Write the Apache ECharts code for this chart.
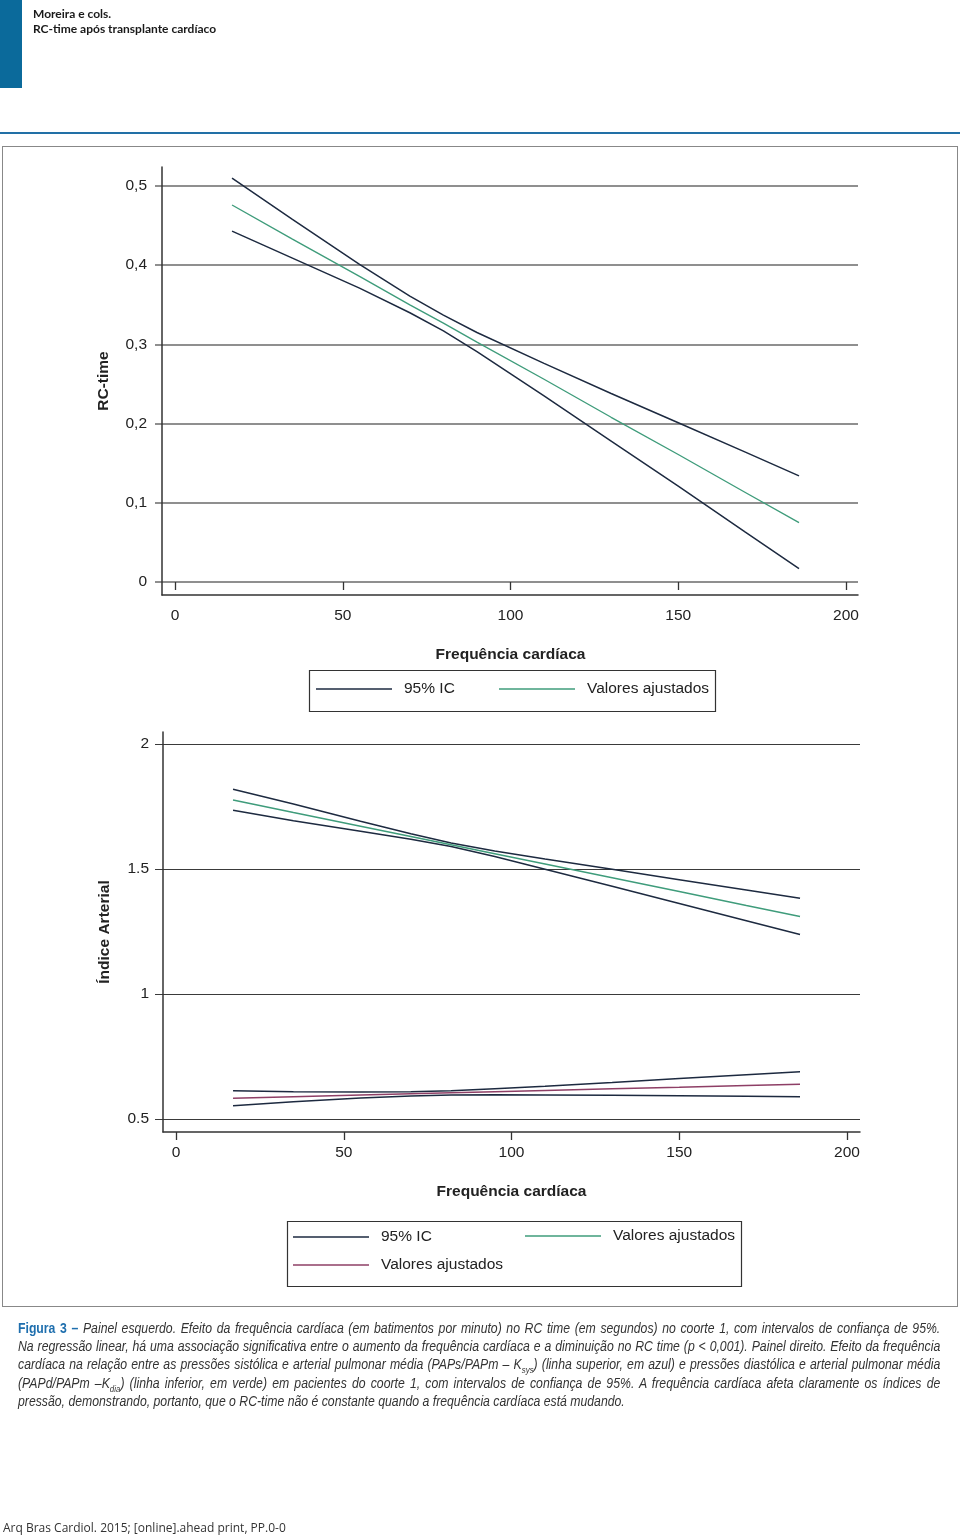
<!DOCTYPE html>
<html>
<head>
<meta charset="utf-8">
<script src="https://cdn.jsdelivr.net/npm/echarts@6/dist/echarts.min.js"></script>
<style>
  html, body { margin:0; padding:0; background:#fff; }
  #page { position:relative; width:960px; height:1536px; overflow:hidden; }
  #chart { position:absolute; left:0; top:0; width:960px; height:1536px; }
  .abs { position:absolute; }
  #bar { left:0; top:0; width:22px; height:88px; background:#0b6a9b; }
  #hdr { left:33px; top:7px; font-family:Lato, "Open Sans", sans-serif; font-size:12px; line-height:14.5px; font-weight:700; color:#1a1a1a; }
  #rule { left:0; top:132px; width:960px; height:2px; background:#2270a6; }
  #panel { left:2px; top:146px; width:954px; height:1159px; border:1px solid #888; }
  #cap { left:18px; top:1319px; width:1054px; transform:scaleX(0.875); transform-origin:0 0;
         font-family:"Liberation Sans",Arial,sans-serif; font-size:14px; line-height:18.2px; color:#333; font-style:italic; }
  #cap div { text-align:justify; text-align-last:justify; white-space:nowrap; }
  #cap div.last { text-align-last:left; }
  #cap b { font-style:normal; color:#1f6fae; font-weight:bold; }
  #cap sub { font-size:9px; line-height:0; }
  #foot { left:3px; top:1519px; font-family:"Open Sans", sans-serif; font-size:12px; color:#333; }
</style>
</head>
<body>
<div id="page">
  <div id="chart"></div>
  <div id="bar" class="abs"></div>
  <div id="hdr" class="abs">Moreira e cols.<br>RC-time após transplante cardíaco</div>
  <div id="rule" class="abs"></div>
  <div id="panel" class="abs"></div>
  <div id="cap" class="abs">
    <div><b>Figura 3 –</b> Painel esquerdo. Efeito da frequência cardíaca (em batimentos por minuto) no RC time (em segundos) no coorte 1, com intervalos de confiança de 95%.</div>
    <div>Na regressão linear, há uma associação significativa entre o aumento da frequência cardíaca e a diminuição no RC time (p &lt; 0,001). Painel direito. Efeito da frequência</div>
    <div>cardíaca na relação entre as pressões sistólica e arterial pulmonar média (PAPs/PAPm – K<sub>sys</sub>) (linha superior, em azul) e pressões diastólica e arterial pulmonar média</div>
    <div>(PAPd/PAPm –K<sub>dia</sub>) (linha inferior, em verde) em pacientes do coorte 1, com intervalos de confiança de 95%. A frequência cardíaca afeta claramente os índices de</div>
    <div class="last">pressão, demonstrando, portanto, que o RC-time não é constante quando a frequência cardíaca está mudando.</div>
  </div>
  <div id="foot" class="abs">Arq Bras Cardiol. 2015; [online].ahead print, PP.0-0</div>
</div>
<script>
// ---- data ----
const hrTop = [17, 35, 55, 70, 80, 90, 110, 130, 150, 170, 186];
const rcUpper = [0.510, 0.458, 0.401, 0.361, 0.337, 0.315, 0.276, 0.238, 0.201, 0.164, 0.134];
const rcFit   = [0.476, 0.433, 0.386, 0.350, 0.327, 0.303, 0.256, 0.208, 0.161, 0.113, 0.075];
const rcLower = [0.443, 0.409, 0.371, 0.340, 0.317, 0.291, 0.235, 0.178, 0.121, 0.063, 0.017];

const hrBottom = [17, 35, 55, 70, 82, 95, 110, 130, 150, 170, 186];
const sysUpper = [1.819, 1.760, 1.691, 1.641, 1.604, 1.572, 1.540, 1.499, 1.457, 1.416, 1.383];
const sysFit   = [1.776, 1.726, 1.671, 1.630, 1.597, 1.561, 1.520, 1.465, 1.410, 1.354, 1.310];
const sysLower = [1.735, 1.693, 1.651, 1.619, 1.590, 1.550, 1.499, 1.431, 1.362, 1.293, 1.238];
const diaUpper = [0.613, 0.609, 0.608, 0.609, 0.613, 0.621, 0.631, 0.646, 0.662, 0.677, 0.689];
const diaFit   = [0.583, 0.589, 0.596, 0.601, 0.605, 0.609, 0.614, 0.621, 0.627, 0.634, 0.639];
const diaLower = [0.553, 0.569, 0.584, 0.592, 0.596, 0.597, 0.596, 0.595, 0.593, 0.591, 0.589];

const xTitle = 'Frequência cardíaca';
const yTitleTop = 'RC-time';
const yTitleBottom = 'Índice Arterial';
const ciName = '95% IC';
const fitName = 'Valores ajustados';
const fitSys = 'Valores ajustados (sys)';
const fitDia = 'Valores ajustados (dia)';

// ---- styling ----
const FONT = '"Liberation Sans",Arial,sans-serif';
const FS = 15.5;
const NAVY = '#1d2a40';
const GREEN = '#3f9c7b';
const MAROON = '#8e3f66';
const AXIS = '#333333';

const pairs = (xs, ys) => xs.map((x, i) => [x, ys[i]]);
const lineSeries = (name, xs, ys, color, axisIdx, width) => ({
  type: 'line', name, data: pairs(xs, ys), xAxisIndex: axisIdx, yAxisIndex: axisIdx,
  symbol: 'none', showSymbol: false, smooth: false, silent: true, clip: false,
  lineStyle: { color, width: width || 1.5 }, itemStyle: { color }, z: 5
});

const hidden = { show: false };
const labelStyle = { fontFamily: FONT, fontSize: FS, color: '#222' };
const titleStyle = { fontFamily: FONT, fontSize: FS, fontWeight: 'bold', color: '#222' };

const legendAt = (left, top, name) => ({
  left, top, orient: 'horizontal', padding: 0, icon: 'rect',
  itemWidth: 76, itemHeight: 1.6, selectedMode: false,
  data: [name],
  formatter: n => n.replace(/ \((sys|dia)\)$/, ''),
  textStyle: { fontFamily: FONT, fontSize: FS, color: '#222', lineHeight: 20, padding: [0, 0, 0, 7] }
});

const option = {
  animation: false,
  grid: [
    { left: 155, top: 186, width: 703, height: 396 },
    { left: 175, top: 186, width: 671, height: 396 },
    { left: 162, top: 167, width: 696, height: 428 },
    { left: 155, top: 744, width: 705, height: 375 },
    { left: 176, top: 744, width: 671, height: 375 },
    { left: 163, top: 732, width: 697, height: 400 }
  ],
  xAxis: [
    { gridIndex: 0, type: 'value', min: 0, max: 1, show: false },
    { gridIndex: 1, type: 'value', min: 0, max: 200, interval: 50, offset: 13,
      axisLine: { show: false }, splitLine: { show: false },
      axisTick: { show: true, length: 8, lineStyle: { color: AXIS, width: 1.3 } },
      axisLabel: Object.assign({ margin: 13 }, labelStyle),
      name: xTitle, nameLocation: 'middle', nameGap: 52, nameTextStyle: titleStyle },
    { gridIndex: 2, type: 'value', min: 0, max: 1,
      axisLine: { show: true, onZero: false, lineStyle: { color: AXIS, width: 1.5 } },
      axisTick: hidden, axisLabel: hidden, splitLine: hidden },
    { gridIndex: 3, type: 'value', min: 0, max: 1, show: false },
    { gridIndex: 4, type: 'value', min: 0, max: 200, interval: 50, offset: 13,
      axisLine: { show: false }, splitLine: { show: false },
      axisTick: { show: true, length: 8, lineStyle: { color: AXIS, width: 1.3 } },
      axisLabel: Object.assign({ margin: 13 }, labelStyle),
      name: xTitle, nameLocation: 'middle', nameGap: 52, nameTextStyle: titleStyle },
    { gridIndex: 5, type: 'value', min: 0, max: 1,
      axisLine: { show: true, onZero: false, lineStyle: { color: AXIS, width: 1.5 } },
      axisTick: hidden, axisLabel: hidden, splitLine: hidden }
  ],
  yAxis: [
    { gridIndex: 0, type: 'value', min: 0, max: 0.5, interval: 0.1,
      axisLine: { show: false }, axisTick: { show: false },
      splitLine: { show: true, lineStyle: { color: '#6a6a6a', width: 1.5 } },
      axisLabel: Object.assign({ margin: 8, formatter: v => v === 0 ? '0' : v.toFixed(1).replace('.', ',') }, labelStyle) },
    { gridIndex: 1, type: 'value', min: 0, max: 0.5, show: false },
    { gridIndex: 2, type: 'value', min: 0, max: 1,
      axisLine: { show: true, onZero: false, lineStyle: { color: AXIS, width: 1.5 } },
      axisTick: hidden, axisLabel: hidden, splitLine: hidden,
      name: yTitleTop, nameLocation: 'middle', nameGap: 50, nameRotate: 90, nameTextStyle: titleStyle },
    { gridIndex: 3, type: 'value', min: 0.5, max: 2, interval: 0.5,
      axisLine: { show: false }, axisTick: { show: false },
      splitLine: { show: true, lineStyle: { color: '#3a3a3a', width: 1.2 } },
      axisLabel: Object.assign({ margin: 6, formatter: v => String(v) }, labelStyle) },
    { gridIndex: 4, type: 'value', min: 0.5, max: 2, show: false },
    { gridIndex: 5, type: 'value', min: 0, max: 1,
      axisLine: { show: true, onZero: false, lineStyle: { color: AXIS, width: 1.5 } },
      axisTick: hidden, axisLabel: hidden, splitLine: hidden,
      name: yTitleBottom, nameLocation: 'middle', nameGap: 50, nameRotate: 90, nameTextStyle: titleStyle }
  ],
  legend: [
    legendAt(316, 679, ciName),
    legendAt(499, 679, fitName),
    legendAt(293, 1227, ciName),
    legendAt(525, 1226, fitSys),
    legendAt(293, 1255, fitDia)
  ],
  graphic: [
    { type: 'rect', left: 307, top: 668, shape: { width: 406, height: 41 },
      style: { fill: 'none', stroke: '#333', lineWidth: 1.2 }, silent: true },
    { type: 'rect', left: 285, top: 1219, shape: { width: 454, height: 65 },
      style: { fill: 'none', stroke: '#333', lineWidth: 1.2 }, silent: true }
  ],
  series: [
    lineSeries(ciName, hrTop, rcUpper, NAVY, 1),
    lineSeries(ciName, hrTop, rcLower, NAVY, 1),
    lineSeries(fitName, hrTop, rcFit, GREEN, 1, 1.4),
    lineSeries(ciName, hrBottom, sysUpper, NAVY, 4),
    lineSeries(ciName, hrBottom, sysLower, NAVY, 4),
    lineSeries(fitSys, hrBottom, sysFit, GREEN, 4, 1.4),
    lineSeries(ciName, hrBottom, diaUpper, NAVY, 4),
    lineSeries(ciName, hrBottom, diaLower, NAVY, 4),
    lineSeries(fitDia, hrBottom, diaFit, MAROON, 4, 1.4)
  ]
};

const chart = echarts.init(document.getElementById('chart'), null, { renderer: 'canvas' });
chart.setOption(option);
</script>
</body>
</html>
